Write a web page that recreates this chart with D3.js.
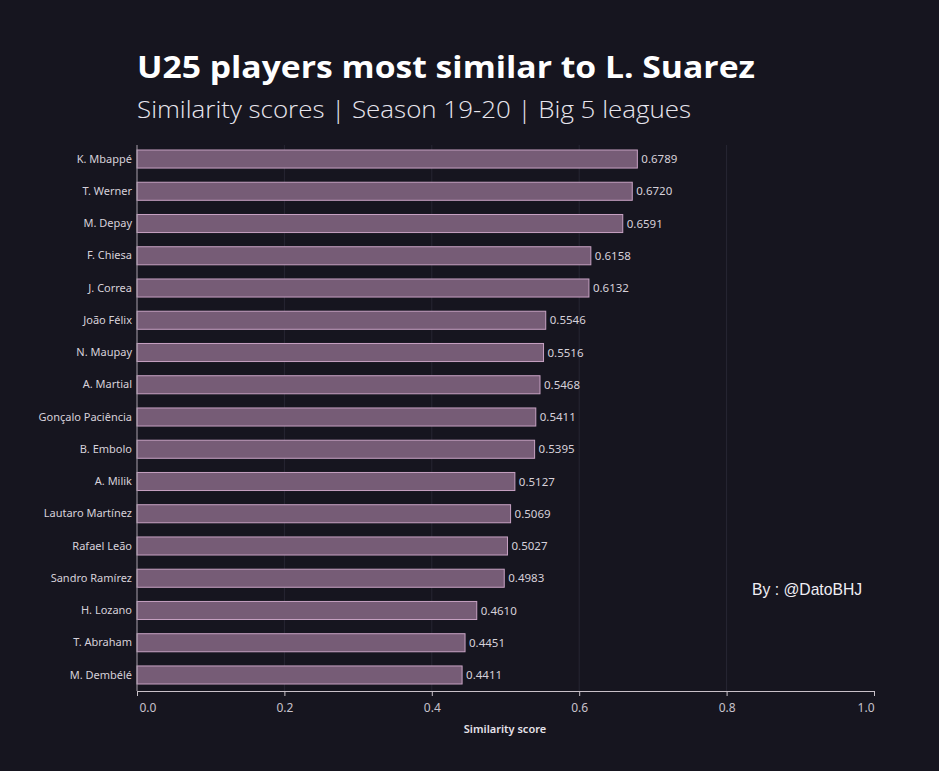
<!DOCTYPE html>
<html><head><meta charset="utf-8">
<script src="https://cdn.jsdelivr.net/npm/d3@7"></script>
<style>html,body{margin:0;padding:0;background:#16151f;}svg{display:block;}</style>
</head><body>
<svg id="c" width="939" height="771"></svg>
<script>
const players = ["K. Mbappé","T. Werner","M. Depay","F. Chiesa","J. Correa","João Félix","N. Maupay","A. Martial","Gonçalo Paciência","B. Embolo","A. Milik","Lautaro Martínez","Rafael Leão","Sandro Ramírez","H. Lozano","T. Abraham","M. Dembélé"];
const scores = [0.6789,0.6720,0.6591,0.6158,0.6132,0.5546,0.5516,0.5468,0.5411,0.5395,0.5127,0.5069,0.5027,0.4983,0.4610,0.4451,0.4411];
const xTicks = [0,0.2,0.4,0.6,0.8,1.0];
const titleText = "U25 players most similar to L. Suarez";
const subtitleText = "Similarity scores | Season 19-20 | Big 5 leagues";
const creditText = "By : @DatoBHJ";
const xLabel = "Similarity score";

const svg = d3.select("#c");
svg.append("rect").attr("width",939).attr("height",771).attr("fill","#16151f");

const x = d3.scaleLinear().domain([0,1]).range([137,874]);
const y = d3.scaleBand().domain(players).range([142.9,691.1]).paddingInner(0.44).paddingOuter(0.22);

// grid
svg.append("g").selectAll("line").data(xTicks.slice(1,-1)).join("line")
  .attr("x1",d=>x(d)).attr("x2",d=>x(d)).attr("y1",145).attr("y2",691)
  .attr("stroke","#272633").attr("stroke-width",1);

// bars
svg.append("g").selectAll("rect").data(players).join("rect")
  .attr("x",x(0)).attr("y",d=>y(d))
  .attr("width",(d,i)=>x(scores[i])-x(0)).attr("height",y.bandwidth())
  .attr("fill","#765c76").attr("stroke","#c7a2c3").attr("stroke-width",1);

// value labels
svg.append("g").selectAll("text").data(players).join("text")
  .attr("x",(d,i)=>x(scores[i])+4).attr("y",d=>y(d)+y.bandwidth()/2)
  .attr("dy","0.35em").attr("fill","#d6d1da")
  .attr("font-family","Noto Sans, sans-serif").attr("font-size",11.5)
  .text((d,i)=>scores[i].toFixed(4));

// y axis
const ya = svg.append("g").attr("transform",`translate(${x(0)},0)`)
  .call(d3.axisLeft(y).tickSize(0).tickPadding(5));
ya.select(".domain").attr("stroke","#a8a0ac").attr("d",`M0,145V691`);
ya.selectAll("text").attr("fill","#d6d1da").attr("font-family","Noto Sans, sans-serif").attr("font-size",11);

// x axis
const xa = svg.append("g").attr("transform","translate(0,691)")
  .call(d3.axisBottom(x).tickValues(xTicks).tickFormat(d3.format(".1f")).tickSize(5).tickPadding(7));
xa.select(".domain").attr("stroke","#c8c0c8").attr("d",`M${x(0)},0.5H${x(1)}`);
xa.selectAll(".tick line").attr("stroke","#c8c0c8");
xa.selectAll("text").attr("fill","#c8c2cc").attr("font-family","Noto Sans, sans-serif").attr("font-size",12)
  .attr("text-anchor",(d,i)=> i===0 ? "start" : (i===xTicks.length-1 ? "end" : "middle"))
  .attr("dx",(d,i)=> i===0 ? 2 : 0);

svg.append("text").attr("x",505).attr("y",733).attr("text-anchor","middle")
  .attr("fill","#e6e2ea").attr("font-family","Noto Sans, sans-serif").attr("font-weight",600).attr("font-size",11)
  .text(xLabel);

svg.append("text").attr("x",137).attr("y",78)
  .attr("fill","#ffffff").attr("font-family","Open Sans, sans-serif").attr("font-weight",700).attr("font-size",31)
  .attr("textLength",618).attr("lengthAdjust","spacingAndGlyphs")
  .text(titleText);
svg.append("text").attr("x",137).attr("y",118)
  .attr("fill","#e8e6ee").attr("font-family","Open Sans, sans-serif").attr("font-weight",300).attr("font-size",24)
  .attr("textLength",554).attr("lengthAdjust","spacingAndGlyphs")
  .text(subtitleText);

svg.append("text").attr("x",752).attr("y",595)
  .attr("fill","#f0eef4").attr("font-family","Liberation Sans, Arial, sans-serif").attr("font-size",15.7)
  .text(creditText);
</script>
</body></html>
